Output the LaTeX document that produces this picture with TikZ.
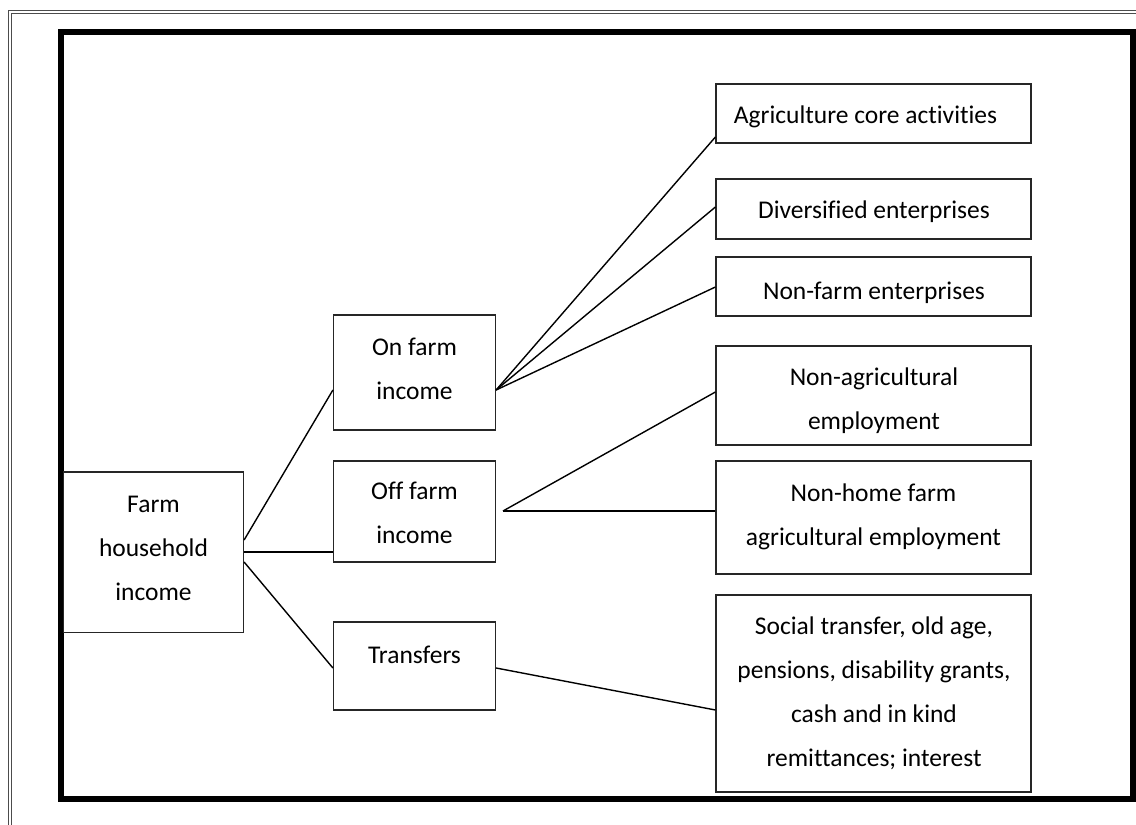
\documentclass[tikz,border=0pt]{standalone}
\usepackage{fontspec}
\setmainfont[Ligatures=NoCommon, RawFeature={-liga,-clig,-calt}]{Carlito}
\begin{document}
\begin{tikzpicture}[x=1pt,y=-1pt,
  box/.style={draw=black!85, line width=1.2pt, rectangle, inner sep=0pt},
  lbl/.style={font=\fontsize{25.5}{44}\selectfont, align=center, inner sep=0pt, text=black},
  link/.style={draw=black, line width=1.4pt}]
\useasboundingbox (0,0) rectangle (1136,825);

% page rule (double line, top and left)
\draw[line width=0.9pt, black!70] (8.5,825) -- (8.5,10.5) -- (1136,10.5);
\draw[line width=0.9pt, black!70] (11.5,825) -- (11.5,13.5) -- (1136,13.5);

% heavy frame
\draw[line width=6pt] (61,32) rectangle (1133,798.5);

% boxes
\node[box, minimum width=180pt, minimum height=160.5pt] (farm) at (153.5,552.25) {};
\node[box, minimum width=162pt, minimum height=115pt] (onfarm) at (414.5,372.5) {};
\node[box, minimum width=162pt, minimum height=101pt] (offfarm) at (414.5,511.5) {};
\node[box, minimum width=162pt, minimum height=88pt] (transfers) at (414.5,666) {};
\node[box, minimum width=315pt, minimum height=59pt] (agri) at (873.5,113.5) {};
\node[box, minimum width=315pt, minimum height=60pt] (div) at (873.5,209) {};
\node[box, minimum width=315pt, minimum height=59pt] (nonfarm) at (873.5,286.5) {};
\node[box, minimum width=315pt, minimum height=99pt] (nonagri) at (873.5,395.5) {};
\node[box, minimum width=315pt, minimum height=113pt] (nonhome) at (873.5,517.5) {};
\node[box, minimum width=315pt, minimum height=197pt] (social) at (873.5,693.5) {};

% labels
\node[lbl] (farmtxt) at (153.5,548.5) {Farm\\household\\income};
\node[lbl] (onfarmtxt) at (414.5,369) {On farm\\income};
\node[lbl] (offfarmtxt) at (414.5,513) {Off farm\\income};
\node[lbl] (transferstxt) at (414.5,655) {Transfers};
\node[lbl] (agritxt) at (865.5,116.5) {Agriculture core activities};
\node[lbl] (divtxt) at (874,212) {Diversified enterprises};
\node[lbl] (nonfarmtxt) at (874,293) {Non-farm enterprises};
\node[lbl] (nonagritxt) at (874,401) {Non-agricultural\\employment};
\node[lbl] (nonhometxt) at (873.5,517) {Non-home farm\\agricultural employment};
\node[lbl] (socialtxt) at (874,693.5) {Social transfer, old age,\\pensions, disability grants,\\cash and in kind\\remittances; interest};

% connectors
\draw[link] (farm.east |- 0,540) -- (onfarm.west |- 0,390);
\draw[link] (farm.east |- 0,552) -- (offfarm.west |- 0,552);
\draw[link] (farm.east |- 0,562) -- (transfers.west |- 0,668);

\draw[link] (onfarm.east |- 0,390) -- (agri.west |- 0,137);
\draw[link] (onfarm.east |- 0,390) -- (div.west |- 0,207);
\draw[link] (onfarm.east |- 0,390) -- (nonfarm.west |- 0,287);

\coordinate (hub) at (503,511);
\draw[link] (hub) -- (nonagri.west |- 0,392);
\draw[link] (hub) -- (nonhome.west |- 0,511);

\draw[link] (transfers.east |- 0,668) -- (social.west |- 0,710);
\end{tikzpicture}
\end{document}
